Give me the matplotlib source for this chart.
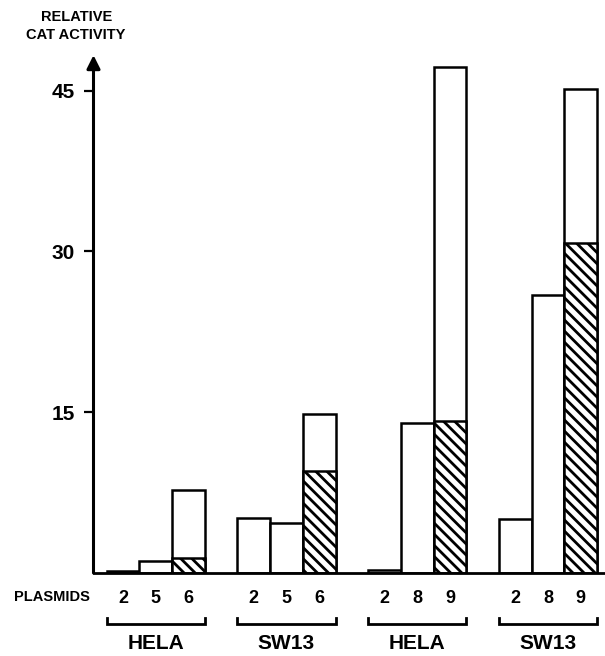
import numpy as np
import matplotlib
matplotlib.use("Agg")
import matplotlib.pyplot as plt
from matplotlib.transforms import blended_transform_factory

# cell lines under each bracket and the plasmids tested in each
groups = ['HELA', 'SW13', 'HELA', 'SW13']
plasmids = [['2', '5', '6'], ['2', '5', '6'], ['2', '8', '9'], ['2', '8', '9']]

# relative CAT activity: full bar height and the hatched (lower) part
total = [[0.2, 1.1, 7.7], [5.1, 4.7, 14.8], [0.25, 14.0, 47.2], [5.0, 25.9, 45.1]]
hatched = [[0, 0, 1.4], [0, 0, 9.5], [0, 0, 14.2], [0, 0, 30.8]]

yticks = [15, 30, 45]

plt.rcParams['font.family'] = ['Liberation Sans', 'DejaVu Sans']
plt.rcParams['font.weight'] = 'bold'
plt.rcParams['hatch.linewidth'] = 2.0

W, H = 605, 656
fig = plt.figure(figsize=(W / 100, H / 100), dpi=100)
ax = fig.add_axes([93.5 / W, 1 - 573 / H, 511.5 / W, 520 / H])

ymax = 48.5
xmin, xmax = -0.9, 14.74
lw = 1.8

pos, labels = [], []
for g in range(len(groups)):
    x = np.arange(3) + 4 * g
    ax.bar(x, total[g], width=1.0, facecolor='white', edgecolor='black', linewidth=lw, zorder=2)
    h = np.array(hatched[g])
    m = h > 0
    ax.bar(x[m], h[m], width=1.0, facecolor='white', edgecolor='black',
           hatch='\\\\\\', linewidth=lw, zorder=3)
    pos.extend(x)
    labels.extend(plasmids[g])

ax.set_xlim(xmin, xmax)
ax.set_ylim(0, ymax)

for s in ['top', 'right', 'left']:
    ax.spines[s].set_visible(False)
ax.spines['bottom'].set_linewidth(2.0)
ax.spines['bottom'].set_zorder(4)

# y axis with arrow head
ax.annotate('', xy=(xmin, 48.3), xytext=(xmin, 0),
            arrowprops=dict(arrowstyle='-|>', color='black', lw=2.2,
                            mutation_scale=20, shrinkA=0, shrinkB=0),
            annotation_clip=False)

ax.set_yticks(yticks)
ax.set_yticklabels([str(t) for t in yticks], fontsize=15, fontweight='bold')
ax.tick_params(axis='y', direction='out', length=7.5, width=1.6, pad=6)

ax.set_xticks(pos)
ax.set_xticklabels(labels, fontsize=13, fontweight='bold')
ax.tick_params(axis='x', length=0, pad=12.5)

# brackets under each group
tr = blended_transform_factory(ax.transData, fig.transFigure)
yb = 1 - 624 / H
yt = 1 - 618 / H
for g, name in enumerate(groups):
    x0 = 4 * g - 0.5
    x1 = 4 * g + 2.5
    ax.plot([x0, x0, x1, x1], [yt, yb, yb, yt], color='black', lw=2.0,
            transform=tr, clip_on=False, solid_joinstyle='miter')
    ax.text(4 * g + 1, 1 - 643.5 / H, name, transform=tr, ha='center', va='center',
            fontsize=15, fontweight='bold')

fig.text(52 / W, 1 - 597 / H, 'PLASMIDS', ha='center', va='center', fontsize=10.5, fontweight='bold')
fig.text(76.5 / W, 1 - 17 / H, 'RELATIVE', ha='center', va='center', fontsize=10.5, fontweight='bold')
fig.text(76 / W, 1 - 35 / H, 'CAT ACTIVITY', ha='center', va='center', fontsize=10.5, fontweight='bold')

fig.savefig('out.png', dpi=100)
